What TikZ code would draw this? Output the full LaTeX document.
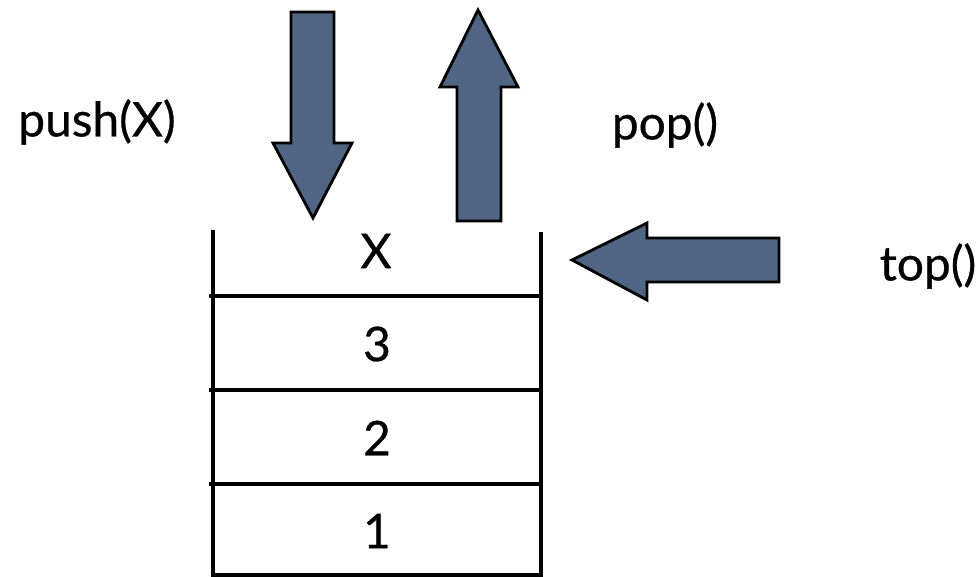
\documentclass[tikz,border=0pt]{standalone}
\usepackage{fontspec}
\setmainfont{Lato}
\newfontfamily\labelfont[FakeBold=0.6]{Lato}

\tikzset{
    blockarrow/.style={fill=slateblue, draw=black, line width=2pt, line join=miter},
    stackline/.style={draw=black, line width=3.5pt},
    label/.style={font=\labelfont\fontsize{34}{36}\selectfont, inner sep=0pt}
}
\definecolor{slateblue}{HTML}{506583}

\begin{document}
\begin{tikzpicture}[x=0.025cm, y=-0.025cm]
    \useasboundingbox (0,0) rectangle (980,577);
    % stack walls and cells
    \path[stackline]
        (213,230) -- (213,575) -- (541,575) -- (541,232)
    ;
    \foreach \y in {296,390,484} {
        \path[stackline] (209,\y) -- (541,\y);
    }
    \node[label] (cellx) at (376,251) {X};
    \node[label] (cell3) at (377,344) {3};
    \node[label] (cell2) at (377,438) {2};
    \node[label] (cell1) at (377,531) {1};
    % push arrow
    \path[blockarrow]
        (291,12) -- (334,12) -- (334,143) -- (352,143) -- (313,218)
        -- (273,143) -- (291,143) -- cycle
    ;
    % pop arrow
    \path[blockarrow]
        (457,221) -- (501,221) -- (501,87) -- (518,87) -- (478,10)
        -- (440,87) -- (457,87) -- cycle
    ;
    % top arrow
    \path[blockarrow]
        (779,238) -- (779,282) -- (647,282) -- (647,300) -- (572,260)
        -- (647,223) -- (647,238) -- cycle
    ;
    \node[label] (push) at (97,122) {push(X)};
    \node[label] (pop) at (665,125) {pop()};
    \node[label] (top) at (928,266) {top()};
\end{tikzpicture}
\end{document}
